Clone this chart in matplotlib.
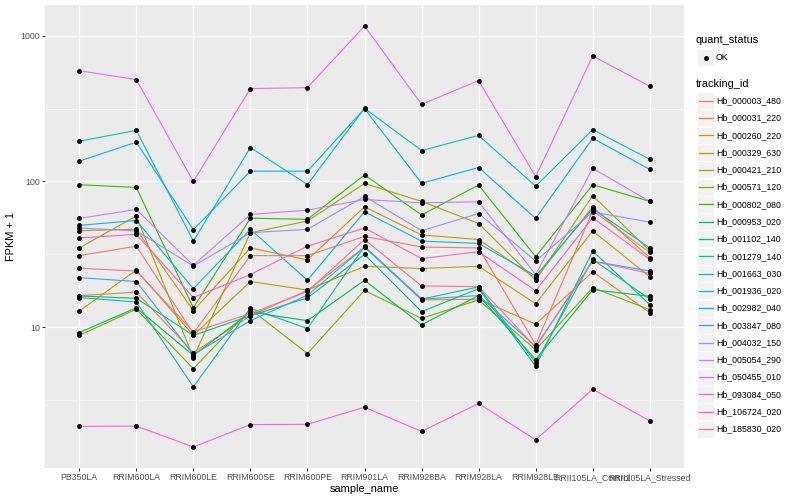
import matplotlib
matplotlib.use('Agg')
import matplotlib.pyplot as plt
from matplotlib.ticker import FixedLocator, NullFormatter
from matplotlib.patches import Rectangle
from matplotlib.lines import Line2D
import numpy as np

plt.rcParams['font.family'] = ['Liberation Sans', 'DejaVu Sans']

sample_names = ['PB350LA', 'RRIM600LA', 'RRIM600LE', 'RRIM600SE', 'RRIM600PE', 'RRIM901LA',
                'RRIM928BA', 'RRIM928LA', 'RRIM928LE', 'RRII105LA_Control', 'RRII105LA_Stressed']

tracking_ids = ['Hb_000003_480', 'Hb_000031_220', 'Hb_000260_220', 'Hb_000329_630', 'Hb_000421_210',
                'Hb_000571_120', 'Hb_000802_080', 'Hb_000953_020', 'Hb_001102_140', 'Hb_001279_140',
                'Hb_001663_030', 'Hb_001936_020', 'Hb_002982_040', 'Hb_003847_080', 'Hb_004032_150',
                'Hb_005054_290', 'Hb_050455_010', 'Hb_093084_050', 'Hb_106724_020', 'Hb_185830_020']

quant_status = ['OK']

# FPKM + 1, one list per tracking id, in sample_names order
hb_000003_480 = [31, 36, 9.1, 31, 31, 42, 35.5, 35, 7.6, 63, 32.6]
hb_000031_220 = [16.5, 17.4, 6.7, 12, 17.9, 35.5, 15.4, 15.6, 10.5, 24, 12.6]
hb_000260_220 = [46, 47, 13, 35, 29, 67, 43, 40, 21.7, 67, 30]
hb_000329_630 = [12.9, 24.7, 8.8, 20.6, 18, 26.2, 25.3, 26.2, 14.5, 45.8, 22.2]
hb_000421_210 = [35, 58, 6.2, 44.5, 53.5, 97, 73, 51.5, 21, 80, 33.5]
hb_000571_120 = [8.8, 13.3, 5.2, 13.3, 6.6, 17.9, 11.5, 15.4, 7, 18.7, 13.2]
hb_000802_080 = [95, 91, 13.6, 56, 55, 111, 59, 94.5, 30.5, 95, 73]
hb_000953_020 = [9.2, 13.6, 6.4, 12.7, 11.1, 21, 10.4, 16.5, 6, 18.1, 16.3]
hb_001102_140 = [16.4, 15.8, 8.8, 12, 15.9, 31.6, 12.8, 18.4, 5.4, 33.3, 14.3]
hb_001279_140 = [16, 14.9, 3.9, 13.5, 9.8, 35.9, 15.6, 18.9, 5.7, 29.2, 15.6]
hb_001663_030 = [189, 224, 39, 171, 95.3, 318, 163, 207, 92.8, 227, 142]
hb_001936_020 = [50, 54, 18.4, 47, 21, 62, 39, 37.6, 22.5, 65, 35]
hb_002982_040 = [138, 186, 46.7, 117.7, 117.7, 316, 97.3, 124.7, 55.8, 198, 121]
hb_003847_080 = [21.9, 20.6, 6.5, 11.1, 16.6, 35.5, 15.6, 16.5, 7.4, 28.4, 24.3]
hb_004032_150 = [48, 45.8, 26.3, 44.5, 47, 79, 46, 60.3, 28.5, 61.7, 52.7]
hb_005054_290 = [55.8, 64.3, 26.6, 59.4, 63.6, 75.3, 71.4, 72.6, 23, 123, 73]
hb_050455_010 = [575, 500, 100, 434, 440, 1165, 338, 492, 108, 726, 450]
hb_093084_050 = [2.09, 2.1, 1.51, 2.15, 2.16, 2.83, 1.93, 3.0, 1.69, 3.76, 2.28]
hb_106724_020 = [41, 43.4, 16, 23, 36, 48, 29.6, 33, 17.8, 56.4, 29.2]
hb_185830_020 = [25.4, 24.3, 9.3, 12.4, 17.6, 40, 19.2, 19, 7.3, 28.4, 23.4]

series = [hb_000003_480, hb_000031_220, hb_000260_220, hb_000329_630, hb_000421_210,
          hb_000571_120, hb_000802_080, hb_000953_020, hb_001102_140, hb_001279_140,
          hb_001663_030, hb_001936_020, hb_002982_040, hb_003847_080, hb_004032_150,
          hb_005054_290, hb_050455_010, hb_093084_050, hb_106724_020, hb_185830_020]

# ggplot2 default hue palette for 20 levels
colors = ['#F8766D', '#EA8331', '#D89000', '#C09B00', '#A3A500', '#7CAE00', '#39B600', '#00BB4E',
          '#00BF7D', '#00C1A3', '#00BFC4', '#00BAE0', '#00B0F6', '#35A2FF', '#9590FF', '#C77CFF',
          '#E76BF3', '#FA62DB', '#FF62BC', '#FF6C91']

W, H = 800, 500
fig = plt.figure(figsize=(W / 72, H / 72), dpi=72)
ax = fig.add_axes([45 / W, 1 - 468 / H, (684 - 45) / W, (468 - 5) / H])

x = np.arange(1, len(sample_names) + 1)

for vals, col in zip(series, colors):
    ax.plot(x, vals, color=col, linewidth=1.1, zorder=2, solid_capstyle='butt')
for vals in series:
    ax.plot(x, vals, linestyle='none', marker='o', markersize=3.8, color='black', zorder=3)

ax.set_yscale('log')
all_vals = np.log10(np.concatenate([np.array(v, dtype=float) for v in series]))
lo, hi = all_vals.min(), all_vals.max()
pad = 0.05 * (hi - lo)
ax.set_ylim(10 ** (lo - pad), 10 ** (hi + pad))
ax.set_xlim(0.4, len(sample_names) + 0.6)

ax.yaxis.set_major_locator(FixedLocator([10, 100, 1000]))
ax.yaxis.set_minor_locator(FixedLocator([10 ** 0.5, 10 ** 1.5, 10 ** 2.5]))
ax.yaxis.set_minor_formatter(NullFormatter())
ax.set_yticklabels(['10', '100', '1000'])
ax.set_xticks(x)
ax.set_xticklabels(sample_names)

ax.set_facecolor('#EBEBEB')
ax.grid(which='major', color='white', linewidth=1.3, zorder=0)
ax.grid(which='minor', axis='y', color='white', linewidth=0.65, zorder=0)
ax.set_axisbelow(True)
for s in ax.spines.values():
    s.set_visible(False)

ax.tick_params(which='major', length=2.75, width=1.0, color='#333333', labelcolor='#4D4D4D',
               labelsize=8.8, pad=2.2)
ax.tick_params(which='minor', length=0)

ax.set_xlabel('sample_name', fontsize=11, labelpad=2.5)
ax.set_ylabel('FPKM + 1', fontsize=11, labelpad=4)


def fx(px):
    return px / W


def fy(py):
    return 1 - py / H


# legend: quant_status
fig.text(fx(696), fy(40), 'quant_status', fontsize=11, va='center', ha='left')
fig.add_artist(Rectangle((fx(697), fy(66)), 17 / W, 17 / H, transform=fig.transFigure,
                         facecolor='#F2F2F2', edgecolor='white', linewidth=0.8, zorder=1))
fig.add_artist(Line2D([fx(705.5)], [fy(57.5)], transform=fig.transFigure, marker='o',
                      markersize=3.8, color='black', linestyle='none', zorder=5))
fig.text(fx(716), fy(57.5), quant_status[0], fontsize=8.8, va='center', ha='left')

# legend: tracking_id
fig.text(fx(696), fy(84), 'tracking_id', fontsize=11, va='center', ha='left')
step = 17.28
for i, (tid, col) in enumerate(zip(tracking_ids, colors)):
    cy = 100.7 + i * step
    fig.add_artist(Rectangle((fx(697), fy(cy + 8.5)), 17 / W, 17 / H, transform=fig.transFigure,
                             facecolor='#F2F2F2', edgecolor='white', linewidth=0.8, zorder=1))
    fig.add_artist(Line2D([fx(698.5), fx(712.5)], [fy(cy), fy(cy)], transform=fig.transFigure,
                          color=col, linewidth=1.3, zorder=5))
    fig.text(fx(716), fy(cy), tid, fontsize=8.8, va='center', ha='left')

fig.savefig('out.png', dpi=72)
